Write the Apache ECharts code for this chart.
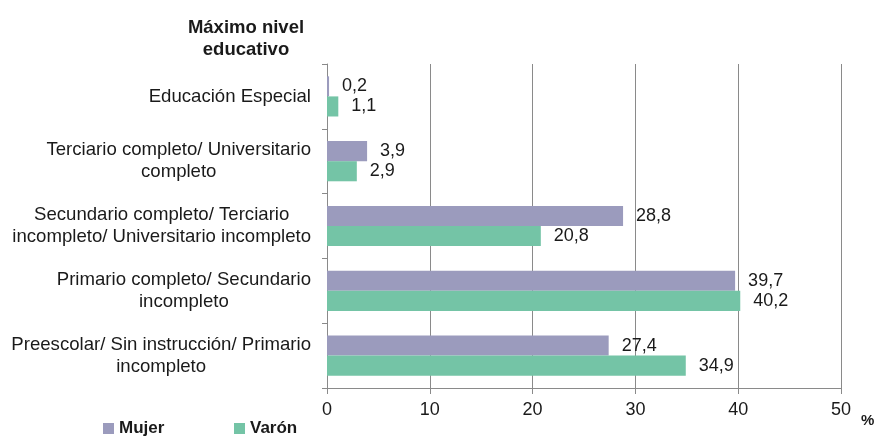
<!DOCTYPE html>
<html>
<head>
<meta charset="utf-8">
<script src="https://cdn.jsdelivr.net/npm/echarts@6/dist/echarts.min.js"></script>
<style>
html,body{margin:0;padding:0;background:#fff;}
#chart{width:877px;height:437px;}
</style>
</head>
<body>
<div id="chart"></div>
<script>
const categories = [
  "Educación Especial",
  "Terciario completo/ Universitario\ncompleto",
  "Secundario completo/ Terciario\nincompleto/ Universitario incompleto",
  "Primario completo/ Secundario\nincompleto",
  "Preescolar/ Sin instrucción/ Primario\nincompleto"
];
const mujer = [0.2, 3.9, 28.8, 39.7, 27.4];
const varon = [1.1, 2.9, 20.8, 40.2, 34.9];
const xTicks = [0, 10, 20, 30, 40, 50];
const seriesNames = ["Mujer", "Varón"];
const titleText = "Máximo nivel\neducativo";
const axisUnit = "%";

const FONT = "'Liberation Sans', Arial, sans-serif";
const TXT = '#1a1a1a';
const C_MUJER = '#9b9bbd';
const C_VARON = '#74c4a6';

const chart = echarts.init(document.getElementById('chart'));
const labelFmt = p => p.value.toFixed(1).replace('.', ',');

chart.setOption({
  animation: false,
  backgroundColor: '#fff',
  textStyle: { fontFamily: FONT },
  title: {
    text: titleText,
    left: 241,
    top: 12,
    textAlign: 'center',
    textStyle: { fontFamily: FONT, fontSize: 18.5, fontWeight: 'bold', color: TXT, lineHeight: 22 }
  },
  graphic: [{
    type: 'text', left: 861, top: 413,
    style: { text: axisUnit, fontFamily: FONT, fontSize: 15, fontWeight: 'bold', fill: TXT }
  }],
  legend: [
    {
      data: [seriesNames[0]], left: 103, top: 420, padding: 0, itemWidth: 11, itemHeight: 11, itemGap: 4,
      icon: 'rect', textStyle: { fontFamily: FONT, fontSize: 17, fontWeight: 'bold', color: TXT }
    },
    {
      data: [seriesNames[1]], left: 234, top: 420, padding: 0, itemWidth: 11, itemHeight: 11, itemGap: 4,
      icon: 'rect', textStyle: { fontFamily: FONT, fontSize: 17, fontWeight: 'bold', color: TXT }
    }
  ],
  grid: { left: 327, right: 36, top: 64, bottom: 49, containLabel: false },
  xAxis: {
    type: 'value',
    min: xTicks[0],
    max: xTicks[xTicks.length - 1],
    interval: xTicks[1] - xTicks[0],
    axisLine: { show: true, lineStyle: { color: '#8a8a8a', width: 1 } },
    axisTick: { show: true, length: 6, lineStyle: { color: '#8a8a8a' } },
    axisLabel: { fontFamily: FONT, fontSize: 18, color: TXT, margin: 13 },
    splitLine: { show: true, lineStyle: { color: '#8a8a8a', width: 1 } }
  },
  yAxis: {
    type: 'category',
    data: categories,
    inverse: true,
    axisLine: { show: true, lineStyle: { color: '#8a8a8a', width: 1 } },
    axisTick: { show: true, length: 5, lineStyle: { color: '#8a8a8a' } },
    axisLabel: {
      margin: 16,
      formatter: v => v.split('\n').map(s => '{c|' + s + '}').join('\n'),
      rich: { c: { align: 'center', fontFamily: FONT, fontSize: 18.6, color: TXT, lineHeight: 22 } }
    }
  },
  series: [
    {
      name: seriesNames[0], type: 'bar', data: mujer, barGap: '0%', barCategoryGap: '38%',
      itemStyle: { color: C_MUJER },
      label: { show: true, position: 'right', distance: 13, formatter: labelFmt,
               fontFamily: FONT, fontSize: 18, color: TXT }
    },
    {
      name: seriesNames[1], type: 'bar', data: varon, barGap: '0%', barCategoryGap: '38%',
      itemStyle: { color: C_VARON },
      label: { show: true, position: 'right', distance: 13, formatter: labelFmt,
               fontFamily: FONT, fontSize: 18, color: TXT }
    }
  ]
});
</script>
</body>
</html>
